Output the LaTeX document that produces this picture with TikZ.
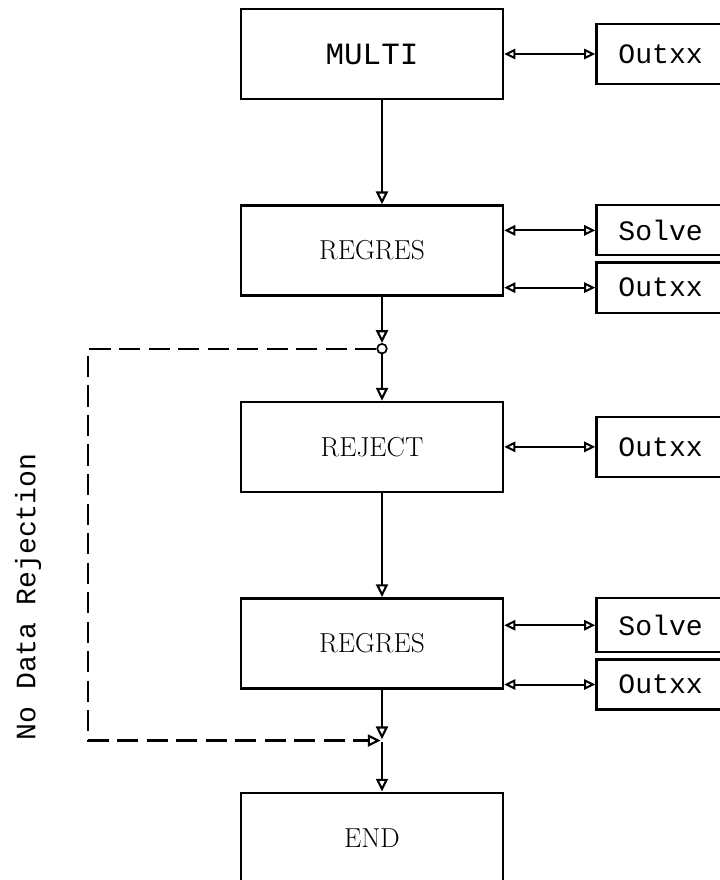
\documentclass[tikz,border=0pt]{standalone}
\usepackage{fontspec}
\setmonofont{Liberation Mono}
\usetikzlibrary{positioning,arrows.meta,calc}
\tikzset{
  flow/.style={-{Triangle[open,length=3.2mm,width=3mm]},line width=1.5pt,draw=black},
  biflow/.style={{Triangle[open,length=2.8mm,width=2.6mm]}-{Triangle[open,length=2.8mm,width=2.6mm]},line width=1.4pt,draw=black},
  dashflow/.style={-{Triangle[open,length=3.2mm,width=3mm]},line width=1.5pt,dash pattern=on 15pt off 6pt,draw=black},
  mainbox/.style={draw=black,line width=1.7pt,minimum width=6.55cm,minimum height=2.25cm,
    align=center,font=\fontsize{19.5}{24}\selectfont},
  sidebox/.style={draw=black,line width=1.6pt,minimum width=4cm,minimum height=1.5cm,
    inner xsep=0.55cm,text width=2.9cm,align=left,font=\ttfamily\fontsize{20}{24}\selectfont},
  junction/.style={circle,draw=black,line width=1.2pt,inner sep=0pt,minimum size=2.4mm},
  joinpt/.style={inner sep=0pt,minimum size=1.5pt}
}
\begin{document}
\begin{tikzpicture}[x=0.025cm,y=-0.025cm,node distance=2.6cm]
  \clip (0,0) rectangle (720,880);
  \fill[white] (0,0) rectangle (720,880);
  % main chain
  \node[mainbox,font=\ttfamily\fontsize{22}{24}\selectfont] (multi) at (372,54) {MULTI};
  \node[mainbox,below=of multi] (regresA) {REGRES};
  \node[mainbox,below=of regresA] (reject) {REJECT};
  \node[mainbox,below=of reject] (regresB) {REGRES};
  \node[mainbox,below=2.55cm of regresB] (finish) {END};
  % side routines
  \node[sidebox,right=2.275cm of multi] (outA) {Outxx};
  \node[sidebox,minimum height=1.25cm,right=2.275cm of regresA.north east,anchor=north west] (solveA) {Solve};
  \node[sidebox,minimum height=1.25cm,below=0.125cm of solveA] (outB) {Outxx};
  \node[sidebox,right=2.275cm of reject] (outC) {Outxx};
  \node[sidebox,minimum height=1.35cm,right=2.275cm of regresB.north east,anchor=north west] (solveB) {Solve};
  \node[sidebox,minimum height=1.25cm,below=0.125cm of solveB] (outD) {Outxx};
  % junctions, a little right of the box centres
  \node[junction] (splitpt) at ([xshift=0.25cm]$(regresA.south)!0.5!(reject.north)$) {};
  \node[joinpt] (mergept) at ([xshift=0.25cm]$(regresB.south)!0.5!(finish.north)$) {};
  \node[rotate=90,font=\ttfamily\fontsize{20}{24}\selectfont] (bypass) at (28,597) {No Data Rejection};
  \draw[flow] ([xshift=0.25cm]multi.south) -- ([xshift=0.25cm]regresA.north);
  \draw[flow] ([xshift=0.25cm]regresA.south) -- (splitpt);
  \draw[flow] (splitpt) -- (splitpt |- reject.north);
  \draw[flow] ([xshift=0.25cm]reject.south) -- ([xshift=0.25cm]regresB.north);
  \draw[flow] ([xshift=0.25cm]regresB.south) -- (mergept);
  \draw[flow] (mergept) -- (mergept |- finish.north);
  \draw[dashflow] (splitpt.west) -- ++(-7.2cm,0) |- (mergept.west);
  \draw[biflow] (multi.east) -- (outA.west);
  \draw[biflow] (regresA.east |- solveA.west) -- (solveA.west);
  \draw[biflow] (regresA.east |- outB.west) -- (outB.west);
  \draw[biflow] (reject.east) -- (outC.west);
  \draw[biflow] (regresB.east |- solveB.west) -- (solveB.west);
  \draw[biflow] (regresB.east |- outD.west) -- (outD.west);
\end{tikzpicture}
\end{document}
